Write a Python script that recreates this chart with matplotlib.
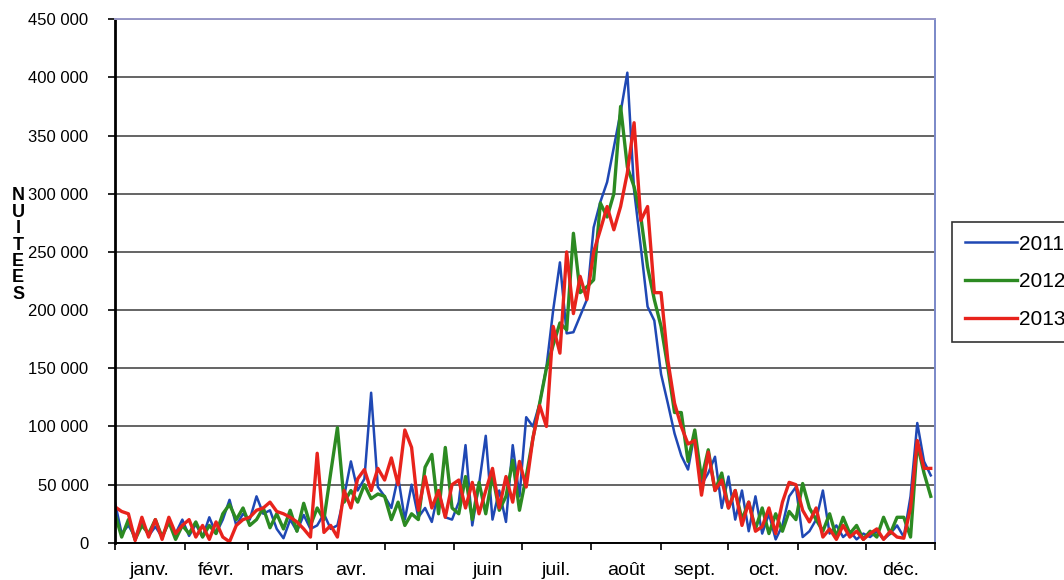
import numpy as np
import matplotlib.pyplot as plt
from matplotlib.ticker import FuncFormatter

plt.rcParams['font.family'] = ['Liberation Sans', 'DejaVu Sans']

# jours (pas de 3 jours) et nuitées en milliers
jours = np.arange(0, 366, 3)

n2011 = [35, 8, 15, 5, 18, 6, 14, 5, 18, 8, 20,
         6, 16, 5, 22, 8, 20, 37, 15, 25,
         20, 40, 25, 28, 12, 4, 20, 10, 24, 12,
         15, 25, 12, 15, 40, 70, 45, 55, 129, 48,
         40, 30, 57, 20, 50, 22, 30, 18, 45, 22, 20,
         35, 84, 15, 50, 92, 20, 45, 18, 84, 40,
         108, 100, 120, 151, 200, 241, 180, 181, 195, 209,
         271, 293, 310, 340, 370, 404, 303, 254, 203, 191,
         145, 120, 94, 75, 63, 95, 50, 60, 74, 30,
         57, 20, 45, 10, 40, 8, 25, 3, 15, 40, 48,
         5, 10, 20, 45, 8, 15, 5, 10, 3, 8,
         5, 10, 3, 8, 15, 5, 40, 103, 70, 58]

n2012 = [25, 5, 20, 3, 15, 8, 20, 5, 18, 3, 15,
         8, 18, 5, 15, 8, 25, 33, 20, 30,
         15, 20, 30, 13, 25, 12, 28, 10, 34, 15,
         30, 20, 60, 99, 35, 45, 35, 50, 38, 42,
         40, 20, 35, 15, 25, 20, 65, 76, 25, 82, 30,
         25, 57, 20, 52, 25, 58, 28, 40, 71, 28,
         57, 90, 120, 150, 170, 189, 183, 266, 215, 220,
         226, 292, 280, 300, 375, 323, 306, 280, 237, 209,
         186, 151, 112, 112, 70, 97, 55, 80, 45, 60,
         30, 45, 20, 35, 12, 30, 8, 25, 10, 27, 20,
         51, 30, 20, 10, 25, 5, 22, 8, 15, 3,
         10, 5, 22, 8, 22, 22, 5, 85, 60, 40]

n2013 = [31, 27, 25, 2, 22, 5, 20, 3, 22, 8, 15,
         20, 5, 15, 3, 18, 5, 1, 15, 20,
         22, 28, 30, 35, 27, 25, 22, 18, 12, 5,
         77, 9, 15, 5, 45, 30, 55, 63, 45, 64,
         54, 73, 50, 97, 82, 28, 57, 30, 45, 22, 50,
         54, 30, 52, 25, 45, 64, 30, 57, 35, 70,
         48, 90, 118, 100, 186, 163, 250, 197, 229, 209,
         250, 269, 289, 269, 289, 318, 361, 277, 289, 215,
         215, 157, 120, 100, 85, 88, 41, 78, 45, 54,
         30, 45, 15, 35, 10, 14, 30, 8, 35, 52, 50,
         28, 18, 30, 5, 12, 3, 15, 5, 10, 3,
         8, 12, 3, 10, 5, 4, 30, 88, 64, 64]

series = [('2011', n2011, '#1f48b4', 1.8),
          ('2012', n2012, '#2c8a22', 2.4),
          ('2013', n2013, '#e8231c', 2.4)]

mois = ['janv.', 'févr.', 'mars', 'avr.', 'mai', 'juin', 'juil.',
        'août', 'sept.', 'oct.', 'nov.', 'déc.']
bornes = [0, 31, 59, 90, 120, 151, 181, 212, 243, 273, 304, 334, 365]

fig = plt.figure(figsize=(10.64, 5.80), dpi=100)
ax = fig.add_axes([0.108, 0.064, 0.771, 0.903])

lignes = []
for nom, vals, couleur, lw in series:
    l, = ax.plot(jours, np.array(vals) * 1000, color=couleur, lw=lw, label=nom)
    lignes.append(l)

ax.set_xlim(0, 365)
ax.set_ylim(0, 450000)
ax.set_yticks(np.arange(0, 450001, 50000))
ax.yaxis.set_major_formatter(FuncFormatter(lambda v, p: f"{int(v):,}".replace(",", " ")))
ax.grid(axis='y', color='#3a3a3a', lw=1.1)
ax.set_axisbelow(True)

ax.set_xticks(bornes)
ax.set_xticklabels([])
ax.set_xticks([(a + b) / 2 for a, b in zip(bornes[:-1], bornes[1:])], minor=True)
ax.set_xticklabels(mois, minor=True, fontsize=14)
ax.tick_params(axis='x', which='major', length=5, width=1.2, direction='out')
ax.tick_params(axis='x', which='minor', length=0, pad=14)
ax.tick_params(axis='y', length=5, width=1.2, pad=14, labelsize=12)

ax.spines['left'].set_linewidth(2)
ax.spines['left'].set_color('black')
ax.spines['bottom'].set_linewidth(1.4)
ax.spines['top'].set_color('#9898c8')
ax.spines['top'].set_linewidth(1.4)
ax.spines['right'].set_color('#7a88c8')
ax.spines['right'].set_linewidth(1.4)

fig.text(0.017, 1 - 245 / 580, "N\nU\nI\nT\nE\nE\nS", ha='center', va='center',
         fontsize=13, fontweight='bold', linespacing=0.95)

leg = fig.legend(handles=lignes, loc='upper left', bbox_to_anchor=(952 / 1064, 1 - 222 / 580),
                 borderaxespad=0, fontsize=15, handlelength=2.5, handletextpad=0.1,
                 borderpad=0.6, labelspacing=0.9, frameon=True, fancybox=False,
                 edgecolor='black')
leg.get_frame().set_linewidth(1.2)

fig.savefig('out.png', dpi=100)
